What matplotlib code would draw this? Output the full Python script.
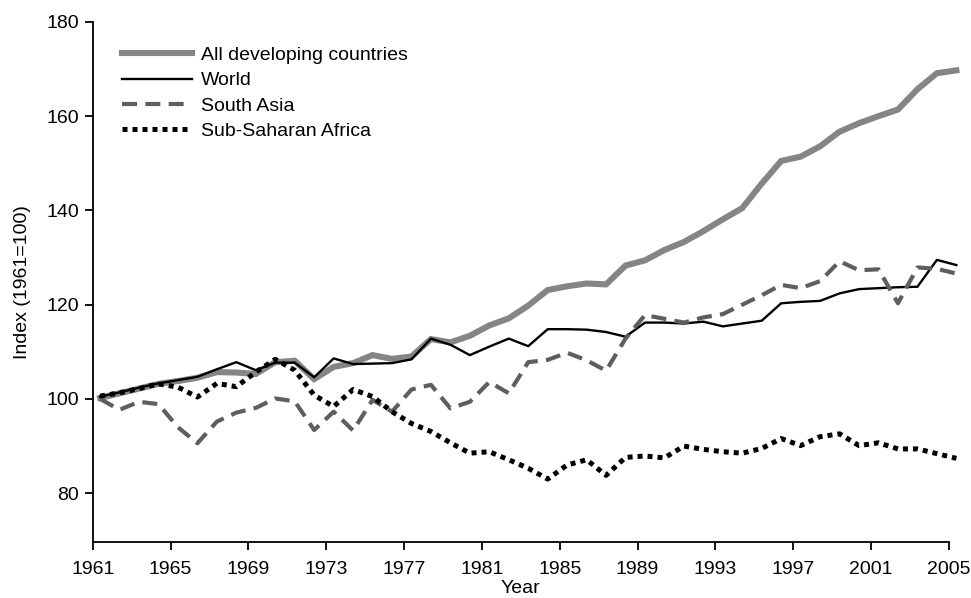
import numpy as np
import matplotlib
matplotlib.use("Agg")
import matplotlib.pyplot as plt

plt.rcParams['font.family'] = ['Liberation Sans', 'DejaVu Sans']

years = np.arange(1961, 2006)

all_developing = [100.2, 101.2, 102.2, 103.2, 103.8, 104.5, 105.7, 105.6, 105.3, 107.8,
                  108.1, 104.2, 106.8, 107.6, 109.3, 108.5, 109.0, 112.7, 112.0, 113.4,
                  115.6, 117.1, 119.8, 123.1, 123.9, 124.5, 124.3, 128.3, 129.4, 131.6,
                  133.3, 135.6, 138.1, 140.5, 145.7, 150.5, 151.4, 153.6, 156.7, 158.5,
                  160.0, 161.4, 165.7, 169.1, 169.7]
world = [100.5, 101.4, 102.4, 103.3, 104.0, 104.7, 106.3, 107.8, 106.1, 107.7,
         107.7, 104.6, 108.6, 107.4, 107.5, 107.6, 108.4, 112.8, 111.5, 109.3,
         111.1, 112.8, 111.2, 114.8, 114.8, 114.7, 114.2, 113.2, 116.2, 116.2,
         116.0, 116.4, 115.4, 116.0, 116.6, 120.3, 120.6, 120.8, 122.4, 123.3,
         123.5, 123.7, 123.8, 129.5, 128.4]
south_asia = [100.0, 97.7, 99.4, 98.9, 94.0, 90.6, 95.2, 97.1, 98.1, 100.1,
              99.5, 93.4, 97.3, 93.3, 99.8, 97.3, 102.0, 103.0, 98.0, 99.4,
              103.6, 101.2, 107.8, 108.3, 109.8, 108.2, 106.0, 112.8, 117.8, 117.0,
              116.2, 117.3, 118.0, 120.0, 122.0, 124.2, 123.5, 125.0, 129.2, 127.3,
              127.5, 120.3, 127.9, 127.6, 126.6]
ssa = [100.6, 101.3, 102.2, 103.2, 102.5, 100.4, 103.3, 102.6, 105.7, 108.4,
       106.1, 100.8, 98.4, 102.0, 100.5, 97.3, 94.8, 93.1, 90.7, 88.5,
       88.8, 87.1, 85.3, 83.0, 86.0, 87.1, 83.8, 87.6, 87.9, 87.5,
       90.0, 89.3, 88.8, 88.5, 89.5, 91.6, 90.1, 92.0, 92.6, 90.1,
       90.7, 89.4, 89.4, 88.4, 87.4]

tick_years = np.arange(1961, 2006, 4)
y_ticks = [80, 100, 120, 140, 160, 180]

fig = plt.figure(figsize=(9.71, 5.98), dpi=100)
ax = fig.add_axes([0.0955, 0.094, 0.8818, 0.8695])

ax.plot(years, all_developing, color='#858585', lw=4.4, solid_joinstyle='miter',
        label='All developing countries', clip_on=False)
ax.plot(years, world, color='black', lw=1.7, label='World', clip_on=False)
ax.plot(years, south_asia, color='#5e5e5e', lw=3.0, dashes=(3.6, 2.0),
        label='South Asia', clip_on=False)
ax.plot(years, ssa, color='black', lw=3.6, dashes=(1.0, 1.0),
        label='Sub-Saharan Africa', clip_on=False)

# category-style axis: ticks sit slightly left of the data points
off = 0.38
ax.set_xlim(1961 - off, 2005 - off)
ax.set_xticks(tick_years - off)
ax.set_xticklabels([str(y) for y in tick_years])
ax.set_ylim(69.7, 180)
ax.set_yticks(y_ticks)

for s in ['top', 'right']:
    ax.spines[s].set_visible(False)
for s in ['left', 'bottom']:
    ax.spines[s].set_linewidth(1.3)
ax.tick_params(direction='out', length=6, width=1.3, labelsize=14)
ax.tick_params(axis='x', pad=8)
ax.tick_params(axis='y', pad=4)

ax.set_xlabel('Year', fontsize=14, labelpad=1)
ax.set_ylabel('Index (1961=100)', fontsize=14, labelpad=11)

ax.legend(loc='upper left', bbox_to_anchor=(0.02, 0.975), frameon=False,
          fontsize=14, handlelength=3.6, handletextpad=0.5, labelspacing=0.4,
          borderaxespad=0.2)

fig.savefig('out.png', dpi=100)
